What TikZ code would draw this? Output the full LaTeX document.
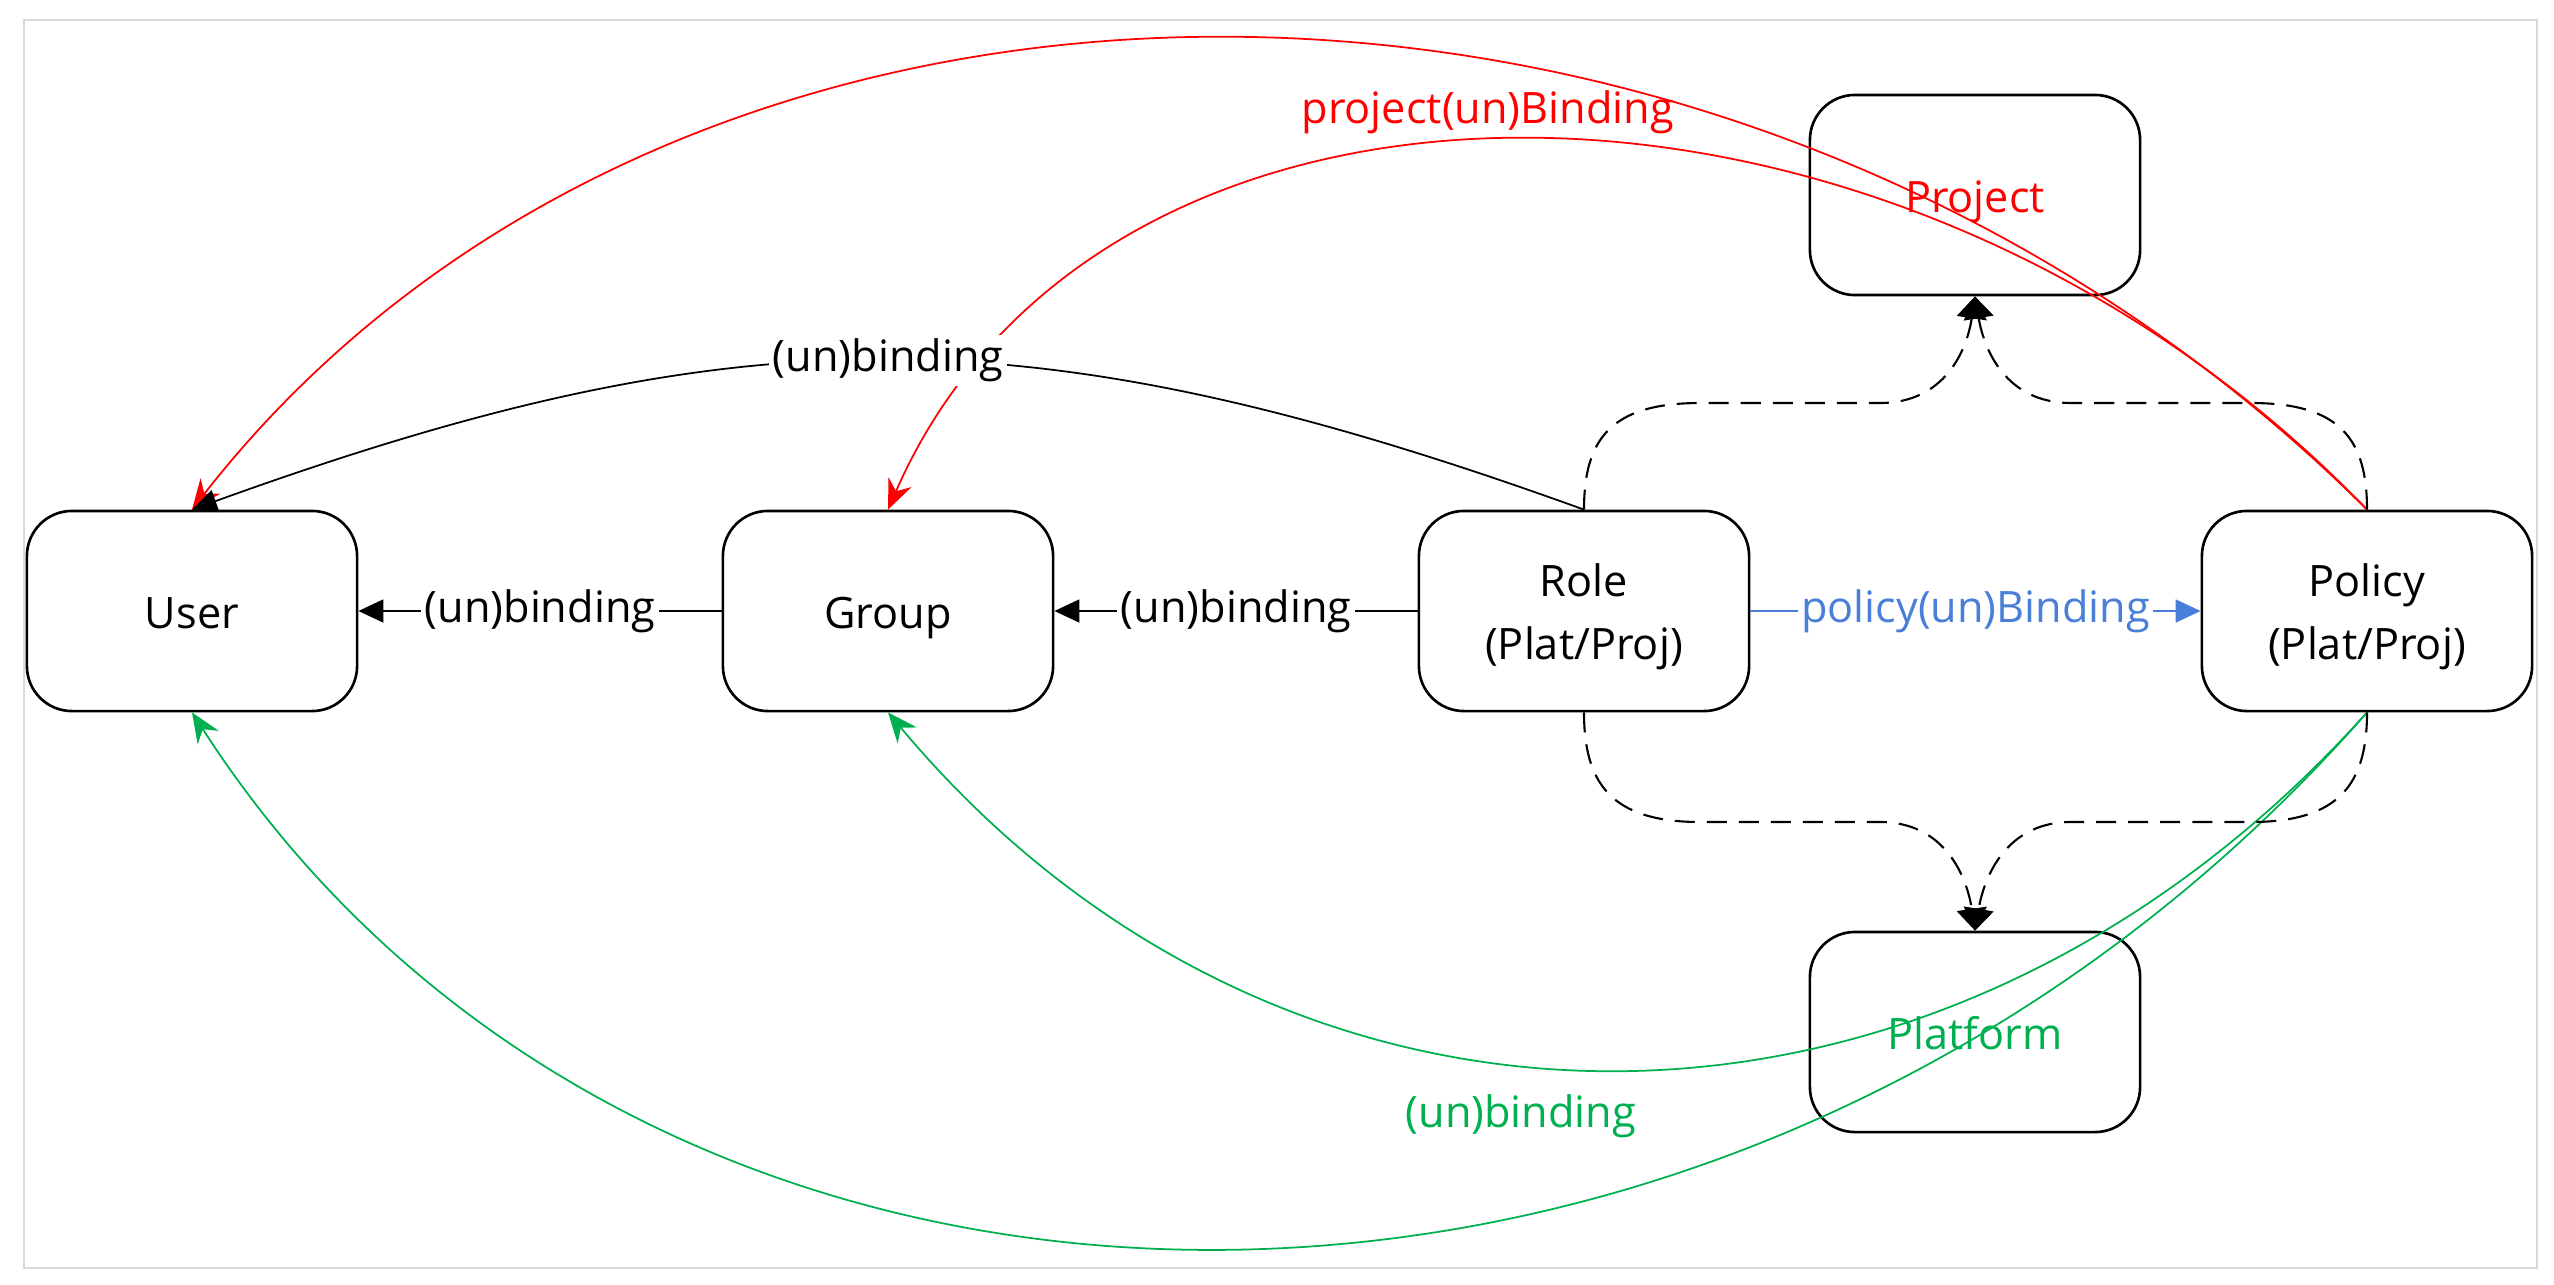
\documentclass[tikz,border=0pt]{standalone}
\usepackage{fontspec}
\setmainfont{Open Sans}
\usepackage{tikz}
\usetikzlibrary{arrows.meta,positioning}
\definecolor{projred}{HTML}{FF0000}
\definecolor{platgreen}{HTML}{00B050}
\definecolor{polblue}{HTML}{4A7FD9}
\definecolor{framegray}{HTML}{D9D9D9}
\begin{document}
\begin{tikzpicture}[x=0.01cm,y=-0.01cm]
	\tikzstyle{every node}+=[font=\fontsize{12.3pt}{18pt}\selectfont]
	\tikzstyle{entity}=[draw=black, line width=0.75pt, fill=white, rounded corners=0.45cm, minimum width=3.3cm, minimum height=2cm, align=center, text height=13.2pt, text depth=3pt]
	\tikzstyle{twoline}=[text height=30.8pt]
	\tikzstyle{rel}=[line width=0.5pt, -{Triangle[length=0.25cm,width=0.23cm]}]
	\tikzstyle{dep}=[line width=0.6pt, dash pattern=on 0.2cm off 0.12cm, -{Triangle[length=0.22cm,width=0.3cm]}]
	\tikzstyle{crv}=[line width=0.5pt, -{Stealth[length=0.3cm,width=0.25cm,inset=0.1cm]}]
	\tikzstyle{lbl}=[fill=white, inner sep=1pt]

	\useasboundingbox (0,0) rectangle (2554,1284);
	\draw [framegray, line width=0.6pt] (24,20) rectangle (2537,1268);

	% boxes
	\node [entity] (user) at (192,611) {User};
	\node [entity] (group) at (888,611) {Group};
	\node [entity, twoline] (role) at (1584,611) {Role\\(Plat/Proj)};
	\node [entity, twoline] (policy) at (2367,611) {Policy\\(Plat/Proj)};
	\node [entity, text=projred] (project) at (1975,195) {Project};
	\node [entity, text=platgreen] (platform) at (1975,1032) {Platform};

	% project bindings
	\draw [crv, projred] (policy.north) .. controls +(-630,-628) and +(490,-628) .. (user.north);
	\draw [crv, projred] (policy.north) .. controls +(-475,-493) and +(215,-493) .. (group.north)
		node [pos=0.525, yshift=0.29cm] {project(un)Binding};

	% platform bindings
	\draw [crv, platgreen] (policy.south) .. controls +(-427,476) and +(398,476) .. (group.south)
		node [pos=0.56, yshift=-0.52cm] {(un)binding};
	\draw [crv, platgreen] (policy.south) .. controls +(-626,714) and +(460,714) .. (user.south);

	% role bindings
	\draw [rel] (role.north) .. controls +(-550,-199) and +(550,-199) .. (user.north)
		node [lbl, pos=0.5] {(un)binding};
	\draw [rel] (role) -- node [lbl] {(un)binding} (group);
	\draw [rel] (group) -- node [lbl] {(un)binding} (user);
	\draw [rel, polblue] (role) -- node [lbl] {policy(un)Binding} (policy);

	% scope
	\draw [dep] (role.north) .. controls (1584,440) and (1610,403) .. (1700,403) -- (1880,403)
		.. controls (1945,403) and (1967,350) .. (project.south);
	\draw [dep] (policy.north) .. controls (2367,440) and (2341,403) .. (2251,403) -- (2071,403)
		.. controls (2006,403) and (1984,350) .. (project.south);
	\draw [dep] (role.south) .. controls (1584,782) and (1610,822) .. (1700,822) -- (1880,822)
		.. controls (1945,822) and (1967,877) .. (platform.north);
	\draw [dep] (policy.south) .. controls (2367,782) and (2341,822) .. (2251,822) -- (2071,822)
		.. controls (2006,822) and (1984,877) .. (platform.north);
\end{tikzpicture}
\end{document}
